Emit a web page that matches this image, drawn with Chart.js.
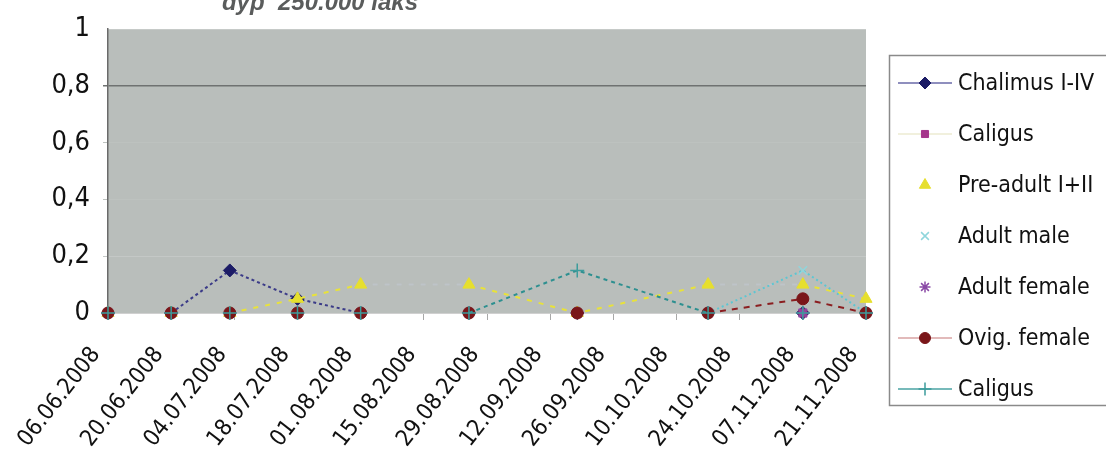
<!DOCTYPE html>
<html>
<head>
<meta charset="utf-8">
<script src="https://cdn.jsdelivr.net/npm/chart.js@4.4.1/dist/chart.umd.min.js"></script>
<style>
  body { margin: 0; background: #fff; }
  #wrap { width: 1106px; height: 456px; }
</style>
</head>
<body>
<div id="wrap"><canvas id="liceChart" width="1106" height="456"></canvas></div>
<script>
// tick labels on the date axis (every 14 days)
const tickDates = ['06.06.2008', '20.06.2008', '04.07.2008', '18.07.2008', '01.08.2008', '15.08.2008',
    '29.08.2008', '12.09.2008', '26.09.2008', '10.10.2008', '24.10.2008', '07.11.2008', '21.11.2008'];
// sampling dates
const sampleDates = ['06.06.2008', '20.06.2008', '03.07.2008', '18.07.2008', '01.08.2008',
    '25.08.2008', '18.09.2008', '17.10.2008', '07.11.2008', '21.11.2008'];

const chalimus     = [0, 0, 0.15, 0.05, 0, 0, 0, 0, 0, 0];
const caligusA     = [0, 0, 0, 0, 0, 0, 0, 0, 0, 0];
const preAdult     = [0, 0, 0, 0.05, 0.1, 0.1, 0, 0.1, 0.1, 0.05];
const adultMale    = [0, 0, 0, 0, 0, 0, 0, 0, 0.15, 0];
const adultFemale  = [0, 0, 0, 0, 0, 0, 0, 0, 0, 0];
const ovigFemale   = [0, 0, 0, 0, 0, 0, 0, 0, 0.05, 0];
const caligusB     = [0, 0, 0, 0, 0, 0, 0.15, 0, 0, 0];

const title = 'dyp  250.000 laks';
const yTicks = ['0', '0,2', '0,4', '0,6', '0,8', '1'];

const FONT = '"DejaVu Sans Condensed", "Liberation Sans Narrow", "Liberation Sans", Arial, sans-serif';

const dayOf = s => {
    const [d, m, y] = s.split('.').map(Number);
    const [d0, m0, y0] = tickDates[0].split('.').map(Number);
    return Math.round((Date.UTC(y, m - 1, d) - Date.UTC(y0, m0 - 1, d0)) / 86400000);
};
const toPoints = values => sampleDates.map((d, i) => ({ x: dayOf(d), y: values[i] }));

const series = [
    { label: 'Chalimus I-IV', data: chalimus, style: 'rectRot', radius: 6.5, color: '#1c1c66', line: '#3b3b88', dash: [3, 3], legendLine: '#6a6aa8' },
    { label: 'Caligus', data: caligusA, style: 'rect', radius: 5.5, color: '#a5358b', line: null, legendLine: '#ecebd2' },
    { label: 'Pre-adult I+II', data: preAdult, style: 'triangle', radius: 7, color: '#e6df2e', line: '#e8e23a', dash: [5, 7], legendLine: null },
    { label: 'Adult male', data: adultMale, style: 'crossRot', radius: 6, color: '#8fd6dc', line: '#5cc6d2', dash: [2, 3], legendLine: null, stroke: true },
    { label: 'Adult female', data: adultFemale, style: 'star', radius: 6, color: '#8a4aa6', line: null, legendLine: null, stroke: true },
    { label: 'Ovig. female', data: ovigFemale, style: 'circle', radius: 6, color: '#7a1619', line: '#8b1e20', dash: [6, 6], legendLine: '#d9a3a3' },
    { label: 'Caligus', data: caligusB, style: 'cross', radius: 7, color: '#3d9c9c', line: '#2e9090', dash: [4, 4], legendLine: '#4aa3a3', stroke: true }
];

// grey plot background + partly cut title
const backdrop = {
    id: 'backdrop',
    beforeDraw(chart) {
        const { ctx, chartArea: a } = chart;
        ctx.save();
        ctx.fillStyle = '#b9bebb';
        ctx.fillRect(a.left, a.top, a.right - a.left, a.bottom - a.top);
        ctx.font = 'italic bold 24px "Liberation Sans", Arial, sans-serif';
        ctx.fillStyle = '#5a5c5c';
        ctx.textAlign = 'center';
        ctx.textBaseline = 'alphabetic';
        ctx.fillText(title, 320, 10);
        ctx.restore();
    }
};

// Excel style legend box on the right
const sideLegend = {
    id: 'sideLegend',
    afterDraw(chart) {
        const ctx = chart.ctx;
        ctx.save();
        ctx.strokeStyle = '#8a8a8a';
        ctx.lineWidth = 1.5;
        ctx.strokeRect(889.5, 55.5, 230, 350);
        ctx.font = '23px ' + FONT;
        ctx.textBaseline = 'middle';
        series.forEach((s, i) => {
            const y = 83 + i * 51;
            if (s.legendLine) {
                ctx.strokeStyle = s.legendLine;
                ctx.lineWidth = 1.5;
                ctx.setLineDash([]);
                ctx.beginPath();
                ctx.moveTo(898, y);
                ctx.lineTo(952, y);
                ctx.stroke();
            }
            ctx.fillStyle = s.color;
            ctx.strokeStyle = s.color;
            ctx.lineWidth = s.stroke ? 1.5 : 1;
            Chart.helpers.drawPoint(ctx, { pointStyle: s.style, radius: s.radius - 0.5, rotation: 0, borderWidth: ctx.lineWidth }, 925, y);
            ctx.fillStyle = '#111';
            ctx.fillText(s.label, 958, y + 1);
        });
        ctx.restore();
    }
};

// segments lying on the zero line are hidden by the axis in the original
const onZero = c => c.p0.parsed.y === 0 && c.p1.parsed.y === 0;
const flatHigh = c => c.p0.parsed.y === c.p1.parsed.y && c.p0.parsed.y > 0;

new Chart(document.getElementById('liceChart').getContext('2d'), {
    type: 'line',
    data: {
        datasets: series.map((s, i) => ({
            label: s.label,
            data: toPoints(s.data),
            showLine: !!s.line,
            borderColor: s.line || s.color,
            borderWidth: 2,
            borderDash: s.dash || [],
            segment: {
                borderColor: c => (onZero(c) ? 'rgba(0,0,0,0)'
                    : (s.label === 'Pre-adult I+II' && flatHigh(c)) ? 'rgba(196,202,214,0.5)' : undefined)
            },
            pointStyle: s.style,
            pointRadius: s.radius,
            pointBackgroundColor: s.color,
            pointBorderColor: s.color,
            pointBorderWidth: s.stroke ? 1.5 : 1,
            tension: 0,
            clip: false,
            order: series.length - i
        }))
    },
    options: {
        responsive: false,
        animation: false,
        layout: { padding: { top: 20, right: 240, left: 0, bottom: 0 } },
        plugins: {
            legend: { display: false },
            tooltip: { enabled: false },
            title: { display: false }
        },
        scales: {
            x: {
                type: 'linear',
                min: 0,
                max: 168,
                afterFit: s => { s.height = 143; },
                afterBuildTicks: s => { s.ticks = tickDates.map((d, i) => ({ value: i * 14 })); },
                ticks: {
                    autoSkip: false,
                    minRotation: 52,
                    maxRotation: 52,
                    padding: 22,
                    labelOffset: -12,
                    color: '#111',
                    font: { family: FONT, size: 23 },
                    callback: v => tickDates[Math.round(v / 14)]
                },
                grid: { drawOnChartArea: false, drawTicks: true, tickLength: 7, color: '#a8a8a8' },
                border: { color: '#d0d0d0' }
            },
            y: {
                min: 0,
                max: 1,
                afterFit: s => { s.width = 108; },
                afterBuildTicks: s => { s.ticks = yTicks.map((t, i) => ({ value: i * 0.2 })); },
                ticks: {
                    color: '#111',
                    padding: 13,
                    font: { family: FONT, size: 27 },
                    callback: (v, i) => yTicks[i]
                },
                grid: {
                    drawTicks: true,
                    tickLength: 5,
                    color: c => (c.index === 4 ? '#6f7271' : c.index === 5 ? 'rgba(0,0,0,0)' : c.index === 1 ? '#c4c8c6' : '#bdc2bf'),
                    lineWidth: c => (c.index === 4 ? 1.5 : 1)
                },
                border: { color: '#6a6a6a', width: 1.5 }
            }
        }
    },
    plugins: [backdrop, sideLegend]
});
</script>
</body>
</html>
